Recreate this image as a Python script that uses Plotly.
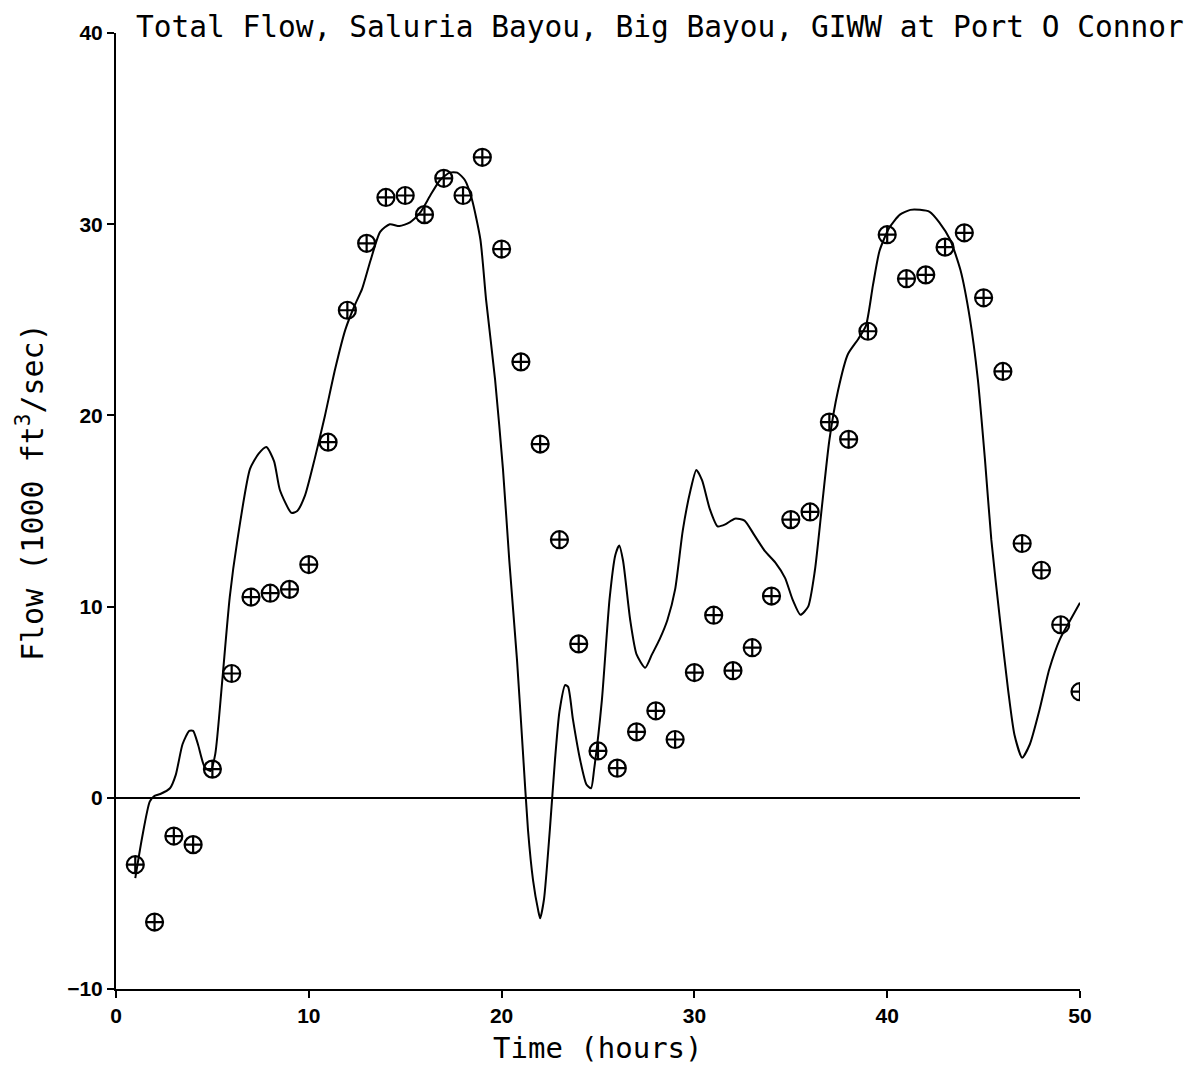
import plotly.graph_objects as go

# Observed total flow (1000 ft^3/sec), hourly
obs_hours = list(range(1, 51))
obs_flow = [
    -3.5, -6.5, -2.0, -2.45, 1.5, 6.5, 10.5, 10.7, 10.9, 12.2,
    18.6, 25.5, 29.0, 31.4, 31.5, 30.5, 32.4, 31.5, 33.5, 28.7,
    22.8, 18.5, 13.5, 8.05, 2.45, 1.55, 3.45, 4.55, 3.05, 6.55,
    9.55, 6.65, 7.85, 10.55, 14.55, 14.95, 19.65, 18.75, 24.4, 29.45,
    27.15, 27.35, 28.8, 29.55, 26.15, 22.3, 13.3, 11.9, 9.05, 5.55,
]

# Model-computed total flow
model_hours = [
    1.0, 1.35, 1.75, 2.0, 2.3, 2.8, 3.1, 3.45, 3.8, 4.0, 4.25, 4.6, 4.9,
    5.15, 5.5, 5.9, 6.3, 6.95, 7.4, 7.8, 8.2, 8.5, 9.1, 9.4, 9.8, 10.3,
    10.84, 11.36, 11.9, 12.4, 12.76, 13.2, 13.7, 14.2, 14.7, 15.25, 15.77,
    16.3, 16.8, 17.3, 17.7, 18.1, 18.46, 18.9, 19.2, 19.66, 20.07, 20.4,
    20.8, 21.1, 21.37, 21.63, 21.9, 22.0, 22.2, 22.5, 22.77, 23.0, 23.3,
    23.45, 23.7, 24.07, 24.4, 24.64, 24.8, 25.2, 25.6, 25.9, 26.1, 26.3,
    26.67, 27.0, 27.45, 27.8, 28.2, 28.6, 29.0, 29.4, 29.8, 30.1, 30.4,
    30.8, 31.2, 31.6, 32.1, 32.6, 33.1, 33.66, 34.2, 34.7, 35.1, 35.5,
    35.9, 36.25, 36.6, 37.0, 37.45, 37.96, 38.5, 38.9, 39.26, 39.6, 40.1,
    40.66, 41.2, 41.7, 42.2, 42.7, 43.26, 43.8, 44.3, 44.7, 45.07, 45.4,
    45.85, 46.27, 46.6, 47.0, 47.4, 47.9, 48.4, 48.96, 49.5, 50.0,
]
model_flow = [
    -4.2, -2.1, -0.2, 0.1, 0.2, 0.5, 1.2, 2.8, 3.5, 3.5, 2.8, 1.6, 1.4,
    2.3, 6.0, 10.5, 13.5, 17.2, 18.0, 18.35, 17.6, 16.1, 14.9, 15.0, 15.8, 17.7,
    20.0, 22.4, 24.5, 25.8, 26.6, 28.1, 29.6, 30.0, 29.9, 30.1, 30.6,
    31.5, 32.3, 32.7, 32.7, 32.3, 31.3, 29.2, 26.0, 21.9, 17.2, 12.4,
    7.2, 2.5, -1.7, -4.3, -5.9, -6.3, -5.3, -1.7, 2.0, 4.5, 5.9,
    5.8, 4.1, 2.0, 0.7, 0.5, 1.5, 5.1, 10.4, 12.7, 13.2, 12.4,
    9.3, 7.5, 6.8, 7.5, 8.3, 9.3, 10.9, 14.0, 16.1, 17.15, 16.6,
    15.1, 14.2, 14.3, 14.6, 14.5, 13.75, 12.9, 12.3, 11.5, 10.35, 9.57,
    10.0, 11.9, 15.1, 18.7, 21.3, 23.2, 24.0, 24.7, 26.8, 28.6, 29.8,
    30.5, 30.75, 30.75, 30.65, 30.1, 29.2, 27.6, 25.0, 21.9, 17.7, 13.5,
    9.3, 5.65, 3.3, 2.1, 2.8, 4.6, 6.7, 8.3, 9.3, 10.2,
]

x_ticks = [0, 10, 20, 30, 40, 50]
y_ticks = [-10, 0, 10, 20, 30, 40]

title_text = "Total Flow, Saluria Bayou, Big Bayou, GIWW at Port O Connor"
x_title = "Time (hours)"
y_title = "Flow (1000 ft<sup>3</sup>/sec)"

plot_font = "DejaVu Sans Mono"
tick_font = dict(family="Liberation Sans", size=21, color="black", weight="bold")

fig = go.Figure()

fig.add_trace(go.Scatter(
    x=model_hours, y=model_flow, mode="lines",
    line=dict(color="black", width=2, shape="spline", smoothing=0.6),
    showlegend=False, hoverinfo="skip",
))

fig.add_trace(go.Scatter(
    x=obs_hours, y=obs_flow, mode="markers",
    marker=dict(symbol="circle-cross-open", size=17, color="black",
                line=dict(width=2.2, color="black")),
    showlegend=False,
))

fig.update_layout(
    width=1193, height=1067,
    margin=dict(l=116, r=113, t=33, b=78),
    paper_bgcolor="white", plot_bgcolor="white",
    xaxis=dict(
        range=[0, 50], tickvals=x_ticks, ticks="outside", ticklen=7,
        tickwidth=2, tickcolor="black", showline=True, linecolor="black",
        linewidth=2, showgrid=False, zeroline=False, tickfont=tick_font,
    ),
    yaxis=dict(
        range=[-10, 40], tickvals=y_ticks,
        ticks="outside", ticklen=7,
        tickwidth=2, tickcolor="black", showline=True, linecolor="black",
        linewidth=2, showgrid=False, zeroline=True, zerolinecolor="black",
        zerolinewidth=1.5, tickfont=tick_font,
    ),
    annotations=[
        dict(text=title_text, xref="paper", yref="paper", x=0.019, y=1.006,
             xanchor="left", yanchor="middle", showarrow=False,
             font=dict(family=plot_font, size=29.5, color="black")),
        dict(text=x_title, xref="paper", yref="paper", x=0.5, y=-0.062,
             xanchor="center", yanchor="middle", showarrow=False,
             font=dict(family=plot_font, size=29, color="black")),
        dict(text=y_title, xref="paper", yref="paper", x=-0.088, y=0.52,
             xanchor="center", yanchor="middle", showarrow=False, textangle=-90,
             font=dict(family=plot_font, size=30, color="black")),
    ],
)

fig.write_html("out.html")
